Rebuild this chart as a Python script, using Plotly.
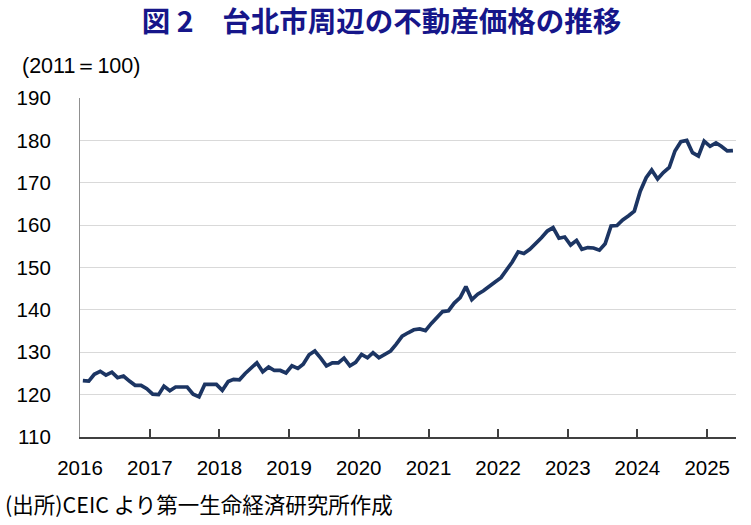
import plotly.graph_objects as go
import pandas as pd

# Monthly index (2011 = 100), Jan 2016 – May 2025
values_2016 = [123.3, 123.2, 124.8, 125.5, 124.6, 125.3, 124.0, 124.4, 123.2, 122.2, 122.2, 121.4]
values_2017 = [120.1, 120.0, 122.0, 120.9, 121.8, 121.8, 121.8, 120.1, 119.5, 122.4, 122.3, 122.4]
values_2018 = [121.0, 123.1, 123.6, 123.5, 125.0, 126.2, 127.5, 125.4, 126.5, 125.7, 125.7, 125.1]
values_2019 = [126.8, 126.2, 127.2, 129.4, 130.3, 128.6, 126.8, 127.5, 127.5, 128.6, 126.8, 127.6]
values_2020 = [129.5, 128.7, 129.9, 128.7, 129.5, 130.3, 131.9, 133.8, 134.6, 135.3, 135.5, 135.1]
values_2021 = [136.8, 138.2, 139.6, 139.8, 141.6, 142.9, 145.5, 142.4, 143.7, 144.5, 145.7, 146.6]
values_2022 = [147.6, 149.4, 151.3, 153.7, 153.3, 154.3, 155.6, 157.0, 158.6, 159.4, 156.9, 157.2]
values_2023 = [155.3, 156.4, 154.3, 154.7, 154.6, 154.1, 155.6, 159.8, 159.9, 161.2, 162.2, 163.3]
values_2024 = [168.0, 171.2, 173.0, 170.9, 172.4, 173.6, 177.5, 179.7, 180.0, 177.1, 176.3, 179.8]
values_2025 = [178.6, 179.4, 178.6, 177.5, 177.6]

values = (values_2016 + values_2017 + values_2018 + values_2019 + values_2020 +
          values_2021 + values_2022 + values_2023 + values_2024 + values_2025)
months = pd.date_range("2016-01-01", periods=len(values), freq="MS") + pd.Timedelta(days=15)

year_ticks = [f"{y}-01-01" for y in range(2016, 2026)]
year_labels = [str(y) for y in range(2016, 2026)]
y_ticks = [110, 120, 130, 140, 150, 160, 170, 180, 190]

num_font = "Liberation Sans Narrow, Liberation Sans, Arial"
jp_font = "Noto Sans CJK JP"

fig = go.Figure()
fig.add_trace(go.Scatter(
    x=months, y=values, mode="lines",
    line=dict(color="#1C3563", width=3.7),
    hoverinfo="skip",
))

fig.update_layout(
    width=751, height=525,
    margin=dict(l=80, r=15, t=98, b=88),
    paper_bgcolor="white", plot_bgcolor="white",
    showlegend=False,
    title=dict(
        text="<b>図 2　台北市周辺の不動産価格の推移</b>",
        x=0.508, xanchor="center", y=0.958, yanchor="middle",
        font=dict(family=jp_font, size=28.5, color="#16168a"),
    ),
)

fig.update_xaxes(
    range=["2016-01-01", "2025-06-01"],
    tickvals=year_ticks, ticktext=year_labels,
    ticks="inside", ticklen=8, tickcolor="#404040", tickwidth=1.5,
    showline=True, linecolor="#404040", linewidth=1.5,
    showgrid=False, zeroline=False,
    tickfont=dict(family=num_font, size=20.5, color="black"),
    ticklabelstandoff=12,
)
fig.update_yaxes(
    range=[110, 190],
    tickvals=y_ticks,
    showline=True, linecolor="#909090", linewidth=1.2,
    showgrid=True, gridcolor="#d9d9d9", gridwidth=1,
    zeroline=False, ticks="",
    tickfont=dict(family=num_font, size=20.5, color="black"),
    ticklabelstandoff=24,
)

fig.add_annotation(
    text="(2011＝100)", xref="paper", yref="paper",
    x=-0.092, y=1.095, xanchor="left", yanchor="middle",
    showarrow=False, font=dict(family=num_font, size=21.5, color="black"),
)
fig.add_annotation(
    text="(出所)CEIC より第一生命経済研究所作成", xref="paper", yref="paper",
    x=-0.117, y=-0.195, xanchor="left", yanchor="middle",
    showarrow=False, font=dict(family=jp_font, size=21.5, color="black"),
)

fig.write_html("out.html")
